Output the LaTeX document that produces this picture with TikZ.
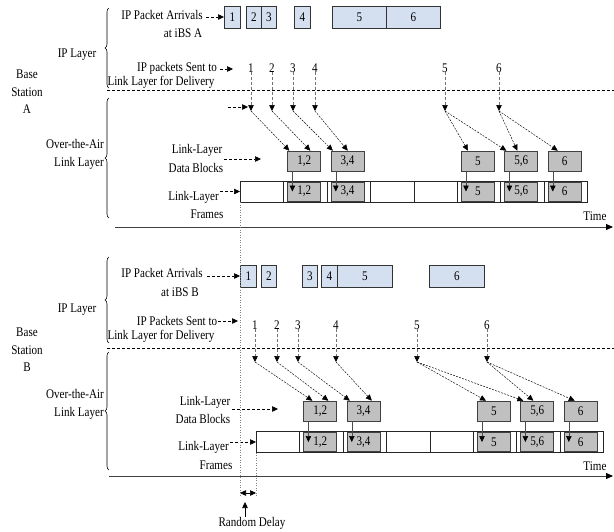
\documentclass[tikz,border=0pt]{standalone}
\usepackage{fontspec}
\setmainfont{Liberation Serif}[FakeStretch=0.84]
\usetikzlibrary{arrows.meta,decorations.pathreplacing}
\definecolor{pktblue}{RGB}{212,224,240}
\definecolor{dbgray}{RGB}{192,192,192}
\newcommand{\lblfont}{\fontsize{13.2}{17.5}\selectfont}
\begin{document}
\begin{tikzpicture}[x=1pt,y=-1pt,
  lbl/.style={inner sep=0pt,font=\lblfont},
  pkt/.style={draw=black!80,line width=0.7pt,fill=pktblue,minimum height=22pt,inner sep=0pt,anchor=west,font=\lblfont},
  frm/.style={draw=black!85,line width=0.8pt,minimum width=43.4pt,minimum height=21pt,inner sep=0pt,anchor=west},
  gblk/.style={draw=black!75,line width=0.6pt,fill=dbgray,minimum width=33pt,minimum height=19pt,inner sep=0pt,anchor=west,font=\lblfont},
  dblk/.style={draw=black!75,line width=0.6pt,fill=dbgray,minimum width=33pt,minimum height=20pt,inner sep=0pt,font=\lblfont},
  tip/.style={-{Triangle[length=6pt,width=5.5pt,color=black]}},
  dar/.style={tip,line width=0.6pt,dash pattern=on 3pt off 2pt},
  vdar/.style={tip,draw=black!55,line width=0.6pt,dash pattern=on 3pt off 2pt},
  diag/.style={tip,line width=0.45pt,dash pattern=on 2pt off 1.2pt},
  sar/.style={tip,draw=black!70,line width=0.6pt},
  divl/.style={line width=0.6pt,dash pattern=on 3pt off 2pt},
  dotl/.style={draw=black!50,line width=0.5pt,dotted},
  axis/.style={draw=black!75,line width=1pt,-{Triangle[length=7pt,width=6pt,color=black]}},
  brc/.style={decorate,decoration={brace,amplitude=4pt},line width=0.6pt}
]
\fill[white] (0,0) rectangle (614,531);
\useasboundingbox (0,0) rectangle (614,531);

%================ Base station A ================
\node[lbl,align=center] (bsA) at (27,92) {Base\\Station\\A};
\node[lbl] (ipA) at (77,55) {IP Layer};
\node[lbl,anchor=east] (otaA1) at (104,144) {Over-the-Air};
\node[lbl,anchor=east] (otaA2) at (104,163) {Link Layer};
\coordinate (brA1b) at (109,88); \coordinate (brA1t) at (109,8);
\coordinate (brA2b) at (109,218); \coordinate (brA2t) at (109,98);
\draw[brc] (brA1b) -- (brA1t);
\draw[brc] (brA2b) -- (brA2t);

% packet arrivals
\node[lbl] (tArrA) at (162,15) {IP Packet Arrivals};
\node[lbl] (tAtA) at (183,33) {at iBS A};
\node[pkt,minimum width=16pt] (pa1) at (224,17) {1};
\node[pkt,minimum width=15pt] (pa2) at (246,17) {2};
\node[pkt,minimum width=15pt] (pa3) at (261,17) {3};
\node[pkt,minimum width=16pt] (pa4) at (294,17) {4};
\node[pkt,minimum width=54pt] (pa5) at (332,17) {5};
\node[pkt,minimum width=54pt] (pa6) at (386,17) {6};
\draw[dar] ([xshift=3pt]tArrA.east |- pa1.west) -- (pa1.west);

% packets sent
\node[lbl] (tSentA) at (177,68) {IP packets Sent to};
\node[lbl] (tDelA) at (161,82) {Link Layer for Delivery};
\coordinate (sentA) at (233,69);
\draw[dar] ([xshift=3pt]tSentA.east |- sentA) -- (sentA);
\foreach \n/\x in {1/251,2/272,3/293,4/315,5/445,6/499}{
  \node[lbl] (na\n) at (\x,68) {\n};
  \coordinate (ta\n) at (\x,111);
  \draw[vdar] ([yshift=1pt]na\n.south) -- (ta\n);
}
\coordinate (divAl) at (107,90); \coordinate (divAr) at (614,90);
\draw[divl] (divAl) -- (divAr);
\coordinate (llA1) at (228,107); \coordinate (llA2) at (248,107);
\draw[dar] (llA1) -- (llA2);

% frames A
\foreach \i in {1,...,8}{
  \node[frm] (fa\i) at ({240+43.4*(\i-1)},191.5) {};
}
\node[gblk] (ga12) at ([xshift=4pt]fa2.west) {1,2};
\node[gblk] (ga34) at ([xshift=4pt]fa3.west) {3,4};
\node[gblk] (ga5) at ([xshift=4pt]fa6.west) {5};
\node[gblk] (ga56) at ([xshift=4pt]fa7.west) {5,6};
\node[gblk] (ga6) at ([xshift=4pt]fa8.west) {6};
\coordinate (dbrowA) at (0,161);
\foreach \b in {12,34,5,56,6}{
  \node[dblk] (dba\b) at (ga\b.center |- dbrowA) {};
}
\node[font=\lblfont,inner sep=0pt] at (dba12) {1,2};
\node[font=\lblfont,inner sep=0pt] at (dba34) {3,4};
\node[font=\lblfont,inner sep=0pt] at (dba5) {5};
\node[font=\lblfont,inner sep=0pt] at (dba56) {5,6};
\node[font=\lblfont,inner sep=0pt] at (dba6) {6};
\foreach \b in {12,34,5,56,6}{
  \draw[sar] ([xshift=5pt]dba\b.south west) -- ([xshift=5pt]ga\b.west);
}
\draw[diag] (ta1) -- ([xshift=2pt]dba12.north west);
\draw[diag] (ta2) -- ([xshift=23pt]dba12.north west);
\draw[diag] (ta3) -- ([xshift=2pt]dba34.north west);
\draw[diag] (ta4) -- ([xshift=17pt]dba34.north west);
\draw[diag] (ta5) -- ([xshift=7pt]dba5.north west);
\draw[diag] (ta5) -- ([xshift=2pt]dba56.north west);
\draw[diag] (ta6) -- ([xshift=13pt]dba56.north west);
\draw[diag] (ta6) -- ([xshift=10pt]dba6.north west);

\node[lbl] (tDbA1) at (197,150) {Link-Layer};
\node[lbl] (tDbA2) at (196,168) {Data Blocks};
\coordinate (dbA) at (261,159);
\draw[dar] ([xshift=2pt]tDbA1.east |- dbA) -- (dbA);
\node[lbl,anchor=east] (tFrA1) at (219,197) {Link-Layer};
\node[lbl] (tFrA2) at (207,214) {Frames};
\draw[dar] ([xshift=1pt]tFrA1.east |- fa1.west) -- (fa1.west);

\coordinate (tAs) at (115,227); \coordinate (tAe) at (613,227);
\draw[axis] (tAs) -- (tAe);
\node[lbl] (timeA) at (595,216) {Time};

%================ Base station B ================
\node[lbl,align=center] (bsB) at (27,350) {Base\\Station\\B};
\node[lbl] (ipB) at (77,310) {IP Layer};
\node[lbl,anchor=east] (otaB1) at (104,394) {Over-the-Air};
\node[lbl,anchor=east] (otaB2) at (104,413) {Link Layer};
\coordinate (brB1b) at (109,343); \coordinate (brB1t) at (109,257);
\coordinate (brB2b) at (109,470); \coordinate (brB2t) at (109,352);
\draw[brc] (brB1b) -- (brB1t);
\draw[brc] (brB2b) -- (brB2t);

\node[lbl] (tArrB) at (162,273) {IP Packet Arrivals};
\node[lbl] (tAtB) at (180,292) {at iBS B};
\node[pkt,minimum width=16pt] (pb1) at (240,276) {1};
\node[pkt,minimum width=15pt] (pb2) at (261,276) {2};
\node[pkt,minimum width=15pt] (pb3) at (302,276) {3};
\node[pkt,minimum width=16pt] (pb4) at (321,276) {4};
\node[pkt,minimum width=55pt] (pb5) at (337,276) {5};
\node[pkt,minimum width=55pt] (pb6) at (429,276) {6};
\draw[dar] ([xshift=4pt]tArrB.east |- pb1.west) -- (pb1.west);

\node[lbl] (tSentB) at (177,321) {IP Packets Sent to};
\node[lbl] (tDelB) at (161,336) {Link Layer for Delivery};
\coordinate (sentB) at (238,321);
\draw[dar] ([xshift=1pt]tSentB.east |- sentB) -- (sentB);
\foreach \n/\x in {1/255,2/277,3/298,4/336,5/417,6/487}{
  \node[lbl] (nb\n) at (\x,325) {\n};
  \coordinate (tb\n) at (\x,362);
  \draw[vdar] ([yshift=1pt]nb\n.south) -- (tb\n);
}
\coordinate (divBl) at (107,348); \coordinate (divBr) at (614,348);
\draw[divl] (divBl) -- (divBr);

\foreach \i in {1,...,8}{
  \node[frm] (fb\i) at ({256+43.4*(\i-1)},442) {};
}
\node[gblk] (gb12) at ([xshift=4pt]fb2.west) {1,2};
\node[gblk] (gb34) at ([xshift=4pt]fb3.west) {3,4};
\node[gblk] (gb5) at ([xshift=4pt]fb6.west) {5};
\node[gblk] (gb56) at ([xshift=4pt]fb7.west) {5,6};
\node[gblk] (gb6) at ([xshift=4pt]fb8.west) {6};
\coordinate (dbrowB) at (0,411);
\foreach \b in {12,34,5,56,6}{
  \node[dblk] (dbb\b) at (gb\b.center |- dbrowB) {};
}
\node[font=\lblfont,inner sep=0pt] at (dbb12) {1,2};
\node[font=\lblfont,inner sep=0pt] at (dbb34) {3,4};
\node[font=\lblfont,inner sep=0pt] at (dbb5) {5};
\node[font=\lblfont,inner sep=0pt] at (dbb56) {5,6};
\node[font=\lblfont,inner sep=0pt] at (dbb6) {6};
\foreach \b in {12,34,5,56,6}{
  \draw[sar] ([xshift=5pt]dbb\b.south west) -- ([xshift=5pt]gb\b.west);
}
\draw[diag] (tb1) -- ([xshift=9pt]dbb12.north west);
\draw[diag] (tb2) -- ([xshift=25pt]dbb12.north west);
\draw[diag] (tb3) -- ([xshift=3pt]dbb34.north west);
\draw[diag] (tb4) -- ([xshift=25pt]dbb34.north west);
\draw[diag] (tb5) -- ([xshift=9pt]dbb5.north west);
\draw[diag] (tb5) -- ([xshift=3pt]dbb56.north west);
\draw[diag] (tb6) -- ([xshift=13pt]dbb56.north west);
\draw[diag] (tb6) -- ([xshift=11pt]dbb6.north west);

\node[lbl] (tDbB1) at (205,402) {Link-Layer};
\node[lbl] (tDbB2) at (203,419) {Data Blocks};
\coordinate (dbB) at (278,409);
\draw[dar] ([xshift=2pt]tDbB1.east |- dbB) -- (dbB);
\node[lbl,anchor=east] (tFrB1) at (229,447) {Link-Layer};
\node[lbl] (tFrB2) at (216,465) {Frames};
\draw[dar] ([xshift=1pt]tFrB1.east |- fb1.west) -- (fb1.west);

\coordinate (tBs) at (109,476); \coordinate (tBe) at (613,476);
\draw[axis] (tBs) -- (tBe);
\node[lbl] (timeB) at (595,466) {Time};

%================ random delay ================
\coordinate (dl1) at (240,497); \coordinate (dl2) at (256,497);
\draw[dotl] (fa1.south west) -- (dl1);
\draw[dotl] (fb1.south west) -- (dl2);
\coordinate (rd1) at (240,493); \coordinate (rd2) at (256,493);
\draw[line width=0.6pt,{Triangle[length=6pt,width=5.5pt]}-{Triangle[length=6pt,width=5.5pt]}] (rd1) -- (rd2);
\node[lbl] (rdl) at (252,523) {Random Delay};
\coordinate (rdup) at (245,502);
\draw[sar,draw=black] (rdl.north -| rdup) -- (rdup);
\end{tikzpicture}
\end{document}
